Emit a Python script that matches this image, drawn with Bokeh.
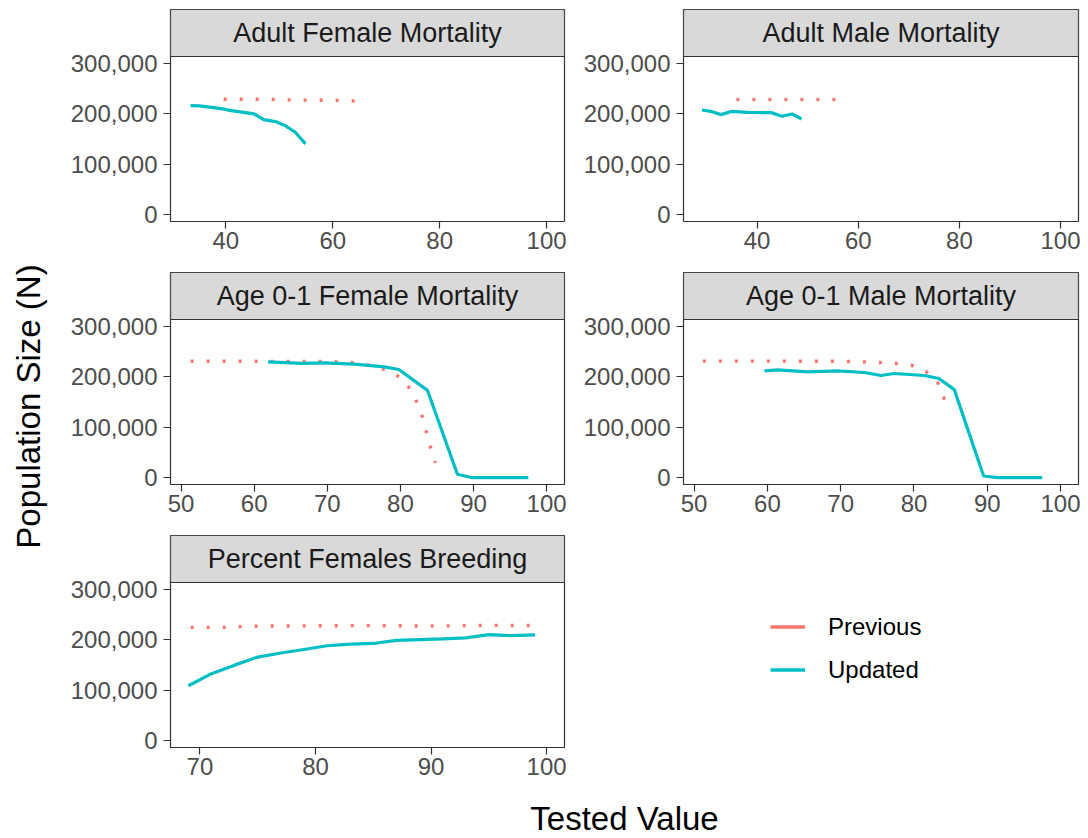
import math
from bokeh.plotting import figure
from bokeh.models import (Range1d, FixedTicker, NumeralTickFormatter, Legend, LegendItem,
                          BoxAnnotation, Label)
from bokeh.layouts import row, column
from bokeh.embed import file_html
from bokeh.resources import INLINE
from bokeh.core.properties import value

# ---------------- data ----------------
panel_titles = ["Adult Female Mortality", "Adult Male Mortality",
                "Age 0-1 Female Mortality", "Age 0-1 Male Mortality",
                "Percent Females Breeding"]
series_names = ["Previous", "Updated"]
y_title = "Population Size (N)"
x_title = "Tested Value"
y_ticks = [0, 100000, 200000, 300000]

# Adult Female Mortality
af_prev_x = [39.6, 48, 54, 60, 64.2]
af_prev_y = [229000, 229000, 227500, 227000, 225700]
af_upd_x = [33.4, 35.1, 37, 39.4, 41, 43, 45.3, 47.1, 49.3, 51.1, 53.0, 54.9]
af_upd_y = [216500, 216000, 213500, 210000, 206500, 203500, 200000, 188700, 184800, 176800, 163600, 140600]
af_ticks = [40, 60, 80, 100]

# Adult Male Mortality
am_prev_x = [35.9, 45, 55.5]
am_prev_y = [228500, 228500, 228500]
am_upd_x = [29.1, 30.9, 32.9, 34.9, 38.2, 42.8, 44.9, 46.9, 48.8]
am_upd_y = [207900, 205000, 198600, 205000, 203000, 202600, 195300, 200000, 190000]
am_ticks = [40, 60, 80, 100]

# Age 0-1 Female Mortality
f01_prev_x = [51.3, 60, 70, 73, 76, 78, 80, 81, 82, 83, 84, 84.8]
f01_prev_y = [231000, 231000, 230500, 229000, 223000, 214000, 199000, 183000, 159000, 121000, 66000, 29000]
f01_upd_x = [61.9, 66.4, 69.6, 73.7, 77.8, 79.8, 83.7, 87.8, 89.8, 97.5]
f01_upd_y = [230000, 226800, 228000, 225400, 220000, 214800, 173400, 6800, 0, 0]
f01_ticks = [50, 60, 70, 80, 90, 100]

# Age 0-1 Male Mortality
m01_prev_x = [51.2, 60, 70, 73, 75.3, 77.3, 79.6, 81.6, 83.2, 84.0, 84.8]
m01_prev_y = [231400, 231400, 231000, 230000, 228700, 227400, 223400, 211400, 190000, 161400, 132000]
m01_upd_x = [59.6, 61.4, 65.5, 69.6, 73.2, 75.5, 77.3, 81.4, 83.4, 85.5, 89.5, 91.4, 97.5]
m01_upd_y = [212000, 214000, 210000, 212000, 208800, 202800, 206800, 202800, 196800, 174800, 3400, 0, 0]
m01_ticks = [50, 60, 70, 80, 90, 100]

# Percent Females Breeding
pfb_prev_x = [69.2, 72, 75, 80, 85, 90, 95, 98.8]
pfb_prev_y = [225000, 225000, 227500, 228000, 228500, 227500, 229000, 228500]
pfb_upd_x = [69, 71, 73, 75, 77, 79, 81, 83, 85, 87, 89, 91, 93, 95, 97, 99]
pfb_upd_y = [109000, 133000, 150000, 166000, 174000, 181000, 188500, 191500, 193000,
             199000, 200500, 202000, 204000, 210500, 208500, 210000]
pfb_ticks = [70, 80, 90, 100]

# x-limits of each panel's data (ggplot adds 5% on both sides)
x_limits = {"af": (33, 100), "am": (29, 100), "f01": (51, 100), "m01": (51, 100), "pfb": (69, 100)}
y_limits = (-13500, 314000)

# ---------------- style ----------------
FONT = "Liberation Sans"
PREV = "#F8766D"
UPD = "#00BFC4"
DARK = "#333333"
YLAB_W = 60
FW_L, FW_R = 394, 395
LEFT_L, LEFT_R = 110, 109
STRIP_H = 47
PANEL_H = 165
TOTAL_H_MAIN = 9 + 3 * STRIP_H + 3 * PANEL_H + 51 + 51 + 40
UNITS_PER_PX = (y_limits[1] - y_limits[0]) / PANEL_H
Y_TOP = y_limits[1] + STRIP_H * UNITS_PER_PX


def expand(lim):
    a, b = lim
    d = (b - a) * 0.05
    return (a - d, b + d)


def facet(title, px, py, ux, uy, xlim, xticks, left, fw, top, bottom):
    x0, x1 = expand(xlim)
    p = figure(width=left + fw + 10, height=top + STRIP_H + PANEL_H + bottom,
               x_range=Range1d(x0, x1), y_range=Range1d(y_limits[0], Y_TOP),
               toolbar_location=None, output_backend="svg",
               min_border_left=left, min_border_right=10,
               min_border_top=top, min_border_bottom=bottom)
    # strip (facet label box)
    p.add_layout(BoxAnnotation(left=x0, right=x1, bottom=y_limits[1], top=Y_TOP,
                               fill_color="#D9D9D9", fill_alpha=1,
                               line_color=DARK, line_alpha=1, line_width=1.2,
                               level="underlay"))
    p.add_layout(Label(x=(x0 + x1) / 2, y=(y_limits[1] + Y_TOP) / 2, text=title,
                       text_align="center", text_baseline="middle",
                       text_font=FONT, text_font_size="27px", text_color="#1A1A1A"))
    p.line(px, py, line_color=PREV, line_width=3.4, line_dash="3 13", line_cap="butt")
    p.line(ux, uy, line_color=UPD, line_width=3.2)
    p.xgrid.visible = False
    p.ygrid.visible = False
    p.outline_line_color = DARK
    p.outline_line_width = 1.2
    p.xaxis.ticker = FixedTicker(ticks=xticks)
    p.yaxis.ticker = FixedTicker(ticks=y_ticks)
    p.yaxis.formatter = NumeralTickFormatter(format="0,0")
    for ax in (p.xaxis, p.yaxis):
        ax.axis_line_color = None
        ax.major_tick_line_color = DARK
        ax.major_tick_line_width = 1.2
        ax.major_tick_out = 7
        ax.major_tick_in = 0
        ax.minor_tick_line_color = None
        ax.major_label_text_font = FONT
        ax.major_label_text_font_size = "24px"
        ax.major_label_text_color = "#4D4D4D"
    p.xaxis.major_label_standoff = 3
    p.yaxis.major_label_standoff = 6
    return p


# row 1
f1 = facet(panel_titles[0], af_prev_x, af_prev_y, af_upd_x, af_upd_y, x_limits["af"], af_ticks,
           LEFT_L, FW_L, 9, 51)
f2 = facet(panel_titles[1], am_prev_x, am_prev_y, am_upd_x, am_upd_y, x_limits["am"], am_ticks,
           LEFT_R, FW_R, 9, 51)
# row 2
f3 = facet(panel_titles[2], f01_prev_x, f01_prev_y, f01_upd_x, f01_upd_y, x_limits["f01"], f01_ticks,
           LEFT_L, FW_L, 0, 51)
f4 = facet(panel_titles[3], m01_prev_x, m01_prev_y, m01_upd_x, m01_upd_y, x_limits["m01"], m01_ticks,
           LEFT_R, FW_R, 0, 51)
# row 3
f5 = facet(panel_titles[4], pfb_prev_x, pfb_prev_y, pfb_upd_x, pfb_upd_y, x_limits["pfb"], pfb_ticks,
           LEFT_L, FW_L, 0, 40)

# legend figure
lg = figure(width=LEFT_R + FW_R + 10, height=STRIP_H + PANEL_H + 40,
            x_range=Range1d(0, 1), y_range=Range1d(0, 1),
            x_axis_type=None, y_axis_type=None, toolbar_location=None,
            output_backend="svg", min_border=0)
lg.outline_line_color = None
nan = float("nan")
rp = lg.line(x=[nan], y=[nan], line_color=PREV, line_width=3.4)
ru = lg.line(x=[nan], y=[nan], line_color=UPD, line_width=3.4)
legend = Legend(items=[LegendItem(label=series_names[0], renderers=[rp]),
                       LegendItem(label=series_names[1], renderers=[ru])],
                location=(196, 56), orientation="vertical",
                glyph_width=35, glyph_height=43, label_height=43,
                label_standoff=23, padding=0, margin=0, spacing=0,
                border_line_color=None, background_fill_alpha=0,
                label_text_font=FONT, label_text_font_size="24px",
                label_text_color="black", label_text_baseline="middle")
lg.add_layout(legend)

# left y title
yl = figure(width=YLAB_W, height=TOTAL_H_MAIN, x_range=Range1d(0, YLAB_W),
            y_range=Range1d(0, TOTAL_H_MAIN), x_axis_type=None, y_axis_type=None,
            toolbar_location=None, output_backend="svg", min_border=0)
yl.outline_line_color = None
yl.text(x=[28], y=[TOTAL_H_MAIN - 406], text=[y_title], angle=math.pi / 2,
        text_align="center", text_baseline="middle",
        text_font=value(FONT), text_font_size="33px", text_color="black")

main = column(row(f1, f2), row(f3, f4), row(f5, lg))

# bottom x title
BT_H = 838 - TOTAL_H_MAIN
bt = figure(width=1088, height=BT_H, x_range=Range1d(0, 1), y_range=Range1d(0, BT_H),
            x_axis_type=None, y_axis_type=None, toolbar_location=None,
            output_backend="svg", min_border_left=YLAB_W + LEFT_L, min_border_right=10,
            min_border_top=0, min_border_bottom=0)
bt.outline_line_color = None
bt.text(x=[0.5], y=[BT_H - 31], text=[x_title], text_align="center", text_baseline="middle",
        text_font=value(FONT), text_font_size="33px", text_color="black")

layout = column(row(yl, main), bt)

open("out.html", "w").write(file_html(layout, INLINE))
